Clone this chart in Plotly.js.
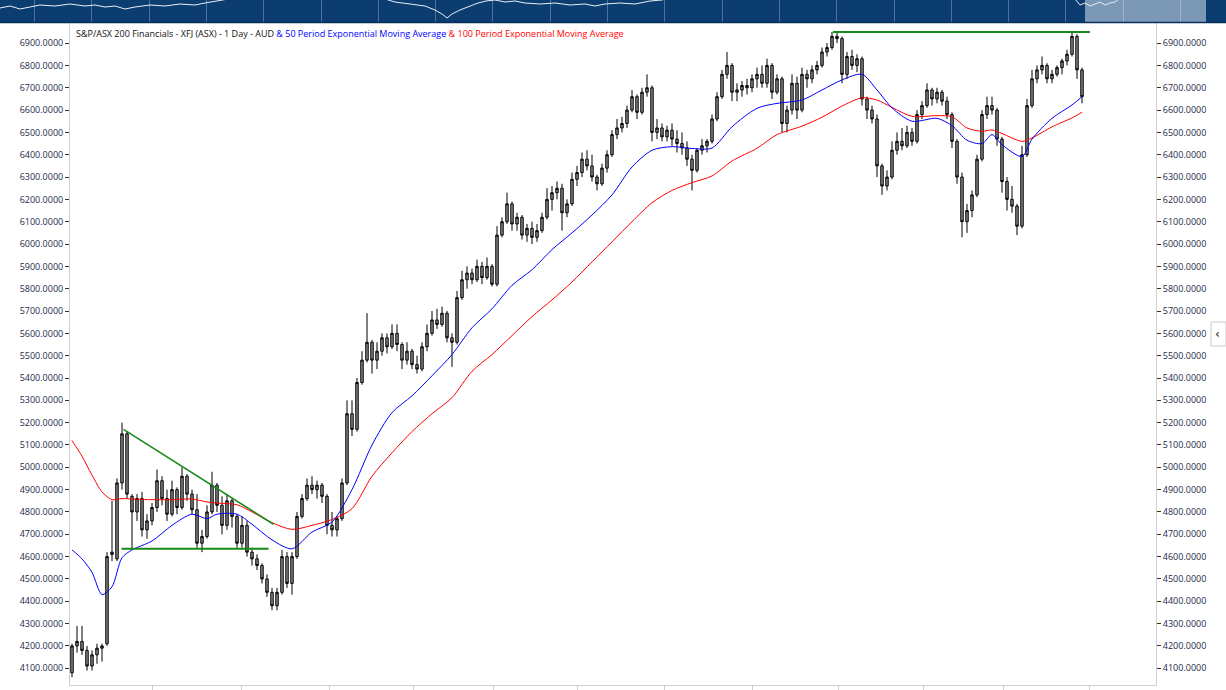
<!DOCTYPE html>
<html>
<head>
<meta charset="utf-8">
<script src="https://cdn.plot.ly/plotly-3.0.1.min.js"></script>
<style>html,body{margin:0;padding:0;background:#fff;}#chart{width:1226px;height:690px;}</style>
</head>
<body>
<div id="chart"></div>
<script>
const opens = [
4080,4200,4220,4180,4110,4160,4190,4210,4610,4590,
4930,5150,4870,4800,4860,4720,4760,4820,4940,4860,
4790,4900,4820,4960,4880,4810,4660,4690,4800,4920,
4830,4740,4850,4780,4660,4740,4620,4590,4560,4500,
4440,4380,4440,4600,4480,4600,4780,4860,4920,4900,
4920,4870,4740,4720,4770,4930,5240,5170,5380,5480,
5560,5480,5520,5580,5540,5600,5550,5480,5520,5460,
5440,5540,5600,5660,5640,5690,5580,5560,5760,5840,
5870,5840,5900,5850,5900,5820,6040,6100,6180,6090,
6120,6040,6070,6030,6060,6120,6200,6230,6250,6140,
6180,6290,6320,6380,6350,6300,6270,6340,6400,6490,
6520,6540,6600,6660,6590,6680,6700,6500,6520,6480,
6510,6470,6450,6430,6380,6330,6420,6440,6460,6560,
6660,6760,6800,6680,6690,6710,6700,6740,6760,6720,
6800,6680,6740,6540,6600,6720,6600,6760,6740,6780,
6800,6860,6880,6930,6920,6760,6840,6800,6830,6650,
6600,6560,6350,6260,6300,6420,6460,6440,6500,6460,
6580,6620,6690,6650,6680,6640,6580,6460,6300,6100,
6150,6220,6380,6580,6620,6600,6470,6280,6200,6170,
6080,6400,6620,6740,6780,6800,6740,6760,6790,6820,
6850,6930,6780];
const highs = [
4210,4290,4290,4200,4180,4210,4210,4620,4850,4950,
5200,5160,4880,4880,4890,4790,4840,4990,4960,4900,
4940,4910,5000,4970,4900,4880,4720,4830,4980,4930,
4870,4880,4860,4790,4780,4760,4640,4610,4570,4520,
4460,4460,4630,4620,4620,4800,4880,4950,4960,4940,
4930,4880,4800,4780,4950,5300,5300,5400,5520,5690,
5570,5560,5600,5600,5640,5640,5560,5560,5530,5500,
5560,5640,5700,5710,5720,5700,5600,5790,5880,5900,
5890,5930,5920,5940,5910,6080,6120,6230,6190,6140,
6130,6090,6100,6090,6140,6250,6260,6280,6270,6200,
6320,6350,6410,6420,6400,6310,6360,6420,6510,6560,
6570,6620,6690,6670,6700,6760,6710,6560,6540,6530,
6540,6510,6500,6460,6400,6430,6470,6470,6580,6680,
6780,6860,6810,6720,6730,6740,6760,6790,6800,6830,
6810,6760,6750,6620,6760,6750,6790,6780,6800,6820,
6880,6900,6950,6950,6930,6860,6870,6850,6840,6660,
6620,6580,6360,6330,6460,6500,6520,6530,6520,6600,
6640,6720,6700,6700,6690,6660,6590,6470,6320,6180,
6240,6400,6600,6660,6660,6610,6480,6300,6260,6180,
6440,6650,6780,6800,6840,6810,6780,6800,6830,6870,
6950,6940,6790];
const lows = [
4060,4170,4160,4090,4090,4120,4130,4200,4580,4580,
4900,4860,4630,4760,4690,4680,4740,4800,4830,4760,
4780,4790,4810,4850,4790,4640,4620,4680,4790,4800,
4700,4720,4730,4640,4640,4600,4560,4540,4480,4420,
4360,4360,4430,4460,4430,4590,4770,4850,4880,4860,
4840,4700,4690,4690,4760,4920,5140,5160,5370,5470,
5420,5440,5500,5510,5530,5520,5440,5460,5440,5420,
5430,5520,5590,5620,5630,5560,5450,5550,5750,5800,
5820,5830,5820,5840,5810,5810,6030,6090,6060,6060,
6020,6010,6000,6010,6050,6110,6150,6200,6060,6120,
6170,6260,6300,6330,6280,6240,6260,6320,6390,6470,
6500,6520,6590,6560,6580,6660,6460,6470,6460,6460,
6440,6410,6400,6350,6240,6320,6400,6410,6450,6550,
6650,6740,6640,6640,6660,6670,6680,6700,6700,6700,
6650,6670,6500,6500,6580,6560,6590,6700,6720,6760,
6790,6840,6870,6900,6720,6740,6780,6770,6620,6560,
6540,6300,6220,6240,6290,6400,6420,6430,6440,6450,
6560,6610,6620,6630,6620,6560,6430,6270,6030,6050,
6120,6210,6370,6560,6580,6440,6230,6150,6140,6040,
6070,6390,6610,6720,6760,6720,6720,6750,6760,6800,
6840,6740,6630];
const closes = [
4200,4220,4180,4110,4160,4190,4200,4600,4620,4930,
5150,4880,4800,4860,4720,4760,4820,4940,4860,4790,
4900,4820,4960,4880,4810,4660,4690,4800,4920,4830,
4740,4850,4780,4660,4740,4620,4590,4560,4500,4440,
4380,4440,4600,4480,4600,4780,4860,4920,4900,4920,
4870,4740,4720,4770,4930,5240,5170,5380,5480,5560,
5480,5520,5580,5540,5600,5550,5480,5520,5460,5440,
5540,5600,5660,5640,5690,5580,5560,5760,5840,5870,
5840,5900,5850,5900,5820,6040,6100,6180,6090,6120,
6040,6070,6030,6060,6120,6200,6230,6250,6140,6180,
6290,6320,6380,6350,6300,6270,6340,6400,6490,6520,
6540,6600,6660,6590,6680,6700,6500,6520,6480,6510,
6470,6450,6430,6380,6330,6420,6440,6460,6560,6660,
6760,6800,6680,6690,6710,6700,6740,6760,6720,6800,
6680,6740,6540,6600,6720,6600,6760,6740,6780,6800,
6860,6880,6930,6920,6760,6840,6800,6830,6650,6600,
6560,6350,6260,6300,6420,6460,6440,6500,6460,6580,
6620,6690,6650,6680,6640,6580,6460,6300,6100,6150,
6220,6380,6580,6620,6600,6470,6280,6200,6170,6080,
6400,6620,6740,6780,6800,6740,6760,6790,6820,6850,
6930,6780,6660];

const emaDays = [0,2,4,6,8,10,12,16,20,24,27,29,33,36,40,44,48,52,56,60,64,68,72,76,80,84,88,92,96,100,104,108,112,116,120,124,128,132,137,141,146,150,154,158,161,164,168,173,176,179,182,184,186,190,192,196,200,202];
const ema50 = [4630,4590,4530,4430,4465,4595,4630,4670,4740,4790,4770,4790,4790,4745,4675,4635,4710,4755,4900,5100,5245,5320,5410,5505,5625,5710,5815,5885,5975,6050,6130,6220,6345,6420,6436,6428,6430,6525,6608,6630,6645,6690,6735,6760,6690,6610,6550,6563,6530,6465,6450,6490,6445,6392,6470,6563,6623,6660];
const ema100 = [5120,5050,4965,4890,4855,4860,4858,4855,4855,4858,4845,4840,4832,4800,4752,4722,4740,4766,4815,4960,5065,5160,5240,5312,5430,5505,5590,5675,5750,5830,5920,6010,6100,6185,6240,6275,6305,6372,6429,6490,6528,6568,6618,6655,6645,6612,6572,6575,6570,6520,6505,6511,6495,6460,6475,6525,6565,6590];

// ---- Hand-drawn trend lines (day, price) ----
const resistDays = [10.3, 40.3];   const resistVals = [5170, 4745];
const supportDays = [9.9, 39.3];   const supportVals = [4635, 4635];
const topDays = [152.2, 203.6];    const topVals = [6950, 6950];

// ---- Month boundary ticks (day index) ----
const monthStarts = [16, 33.8, 51.4, 68.2, 84.2, 101, 118.4, 136, 153.2, 170.2, 186.2, 203.4];

// ---- Navigator overview line (position, relative level) ----
const navPos = [0,10,20,30,40,55,70,85,95,105,115,125,135,150,165,180,195,205,215,225,240,300,360,385,395,410,425,435,442,447,452,460,470,478,486,495,505,515,525,540,555,570,585,595,605,620,635,650,662,675,800,1000,1075,1080,1085,1090,1095,1100,1105,1110,1115,1120];
const navLvl = [15,17,14,16,18,17,19,17,18,16,17,14,16,18,17,19,18,20,22,24,26,30,30,24,21,19,17,13,9,5,9,13,17,20,22,23,21,22,20,19,20,18,19,17,19,20,19,22,23,27,35,35,24,18,20,17,19,21,18,20,21,25];

const days = opens.map((_, i) => i);
const yRange = [4025, 6990];
const tickFont = {family: 'Open Sans, Noto Sans, sans-serif', size: 9, color: '#1b2a49'};

const P = (px) => px / 1226;           // paper x from pixel
const Q = (py) => 1 - py / 690;        // paper y from pixel

const traces = [
  {
    type: 'candlestick', x: days, open: opens, high: highs, low: lows, close: closes,
    increasing: {line: {color: '#000', width: 1}, fillcolor: '#8a8a8a'},
    decreasing: {line: {color: '#000', width: 1}, fillcolor: '#8a8a8a'},
    whiskerwidth: 0, showlegend: false, hoverinfo: 'skip', xaxis: 'x', yaxis: 'y'
  },
  {type: 'scatter', mode: 'lines', x: emaDays, y: ema100, line: {color: '#ff0000', width: 1, shape: 'spline', smoothing: 0.8}, showlegend: false, hoverinfo: 'skip'},
  {type: 'scatter', mode: 'lines', x: emaDays, y: ema50, line: {color: '#0000ff', width: 1, shape: 'spline', smoothing: 0.8}, showlegend: false, hoverinfo: 'skip'},
  {type: 'scatter', mode: 'lines', x: resistDays, y: resistVals, line: {color: '#178a17', width: 1.6}, showlegend: false, hoverinfo: 'skip'},
  {type: 'scatter', mode: 'lines', x: supportDays, y: supportVals, line: {color: '#178a17', width: 2}, showlegend: false, hoverinfo: 'skip'},
  {type: 'scatter', mode: 'lines', x: topDays, y: topVals, line: {color: '#178a17', width: 2}, showlegend: false, hoverinfo: 'skip'},
  {type: 'scatter', mode: 'markers', x: [days[0]], y: [closes[0]], marker: {opacity: 0}, xaxis: 'x', yaxis: 'y3', showlegend: false, hoverinfo: 'skip'},
  {type: 'scatter', mode: 'lines', x: navPos, y: navLvl, line: {color: '#e8eef5', width: 1}, xaxis: 'x2', yaxis: 'y2', showlegend: false, hoverinfo: 'skip'}
];

const xDom = [P(70), P(1156)];
const yDom = [Q(685), Q(23)];

const layout = {
  width: 1226, height: 690,
  margin: {l: 0, r: 0, t: 0, b: 0, pad: 0},
  paper_bgcolor: '#ffffff', plot_bgcolor: 'rgba(0,0,0,0)',
  showlegend: false,
  xaxis: {
    domain: xDom, range: [-0.4, 216.8], type: 'linear', anchor: 'y',
    showgrid: false, zeroline: false, showline: true, linecolor: '#cfcfcf', linewidth: 1,
    tickmode: 'array', tickvals: monthStarts, ticktext: monthStarts.map(() => ''),
    ticks: 'outside', ticklen: 5, tickcolor: '#cfcfcf', tickwidth: 1,
    rangeslider: {visible: false}, fixedrange: true
  },
  yaxis: {
    domain: yDom, range: yRange, anchor: 'x', side: 'left',
    showgrid: false, zeroline: false, showline: true, linecolor: '#cfcfcf', linewidth: 1,
    dtick: 100, tick0: 0, tickformat: '.4f', ticks: 'outside', ticklen: 4, tickcolor: '#333', tickwidth: 1,
    tickfont: tickFont, fixedrange: true
  },
  yaxis3: {
    overlaying: 'y', side: 'right', anchor: 'x', range: yRange,
    showgrid: false, zeroline: false, showline: true, linecolor: '#cfcfcf', linewidth: 1,
    dtick: 100, tick0: 0, tickformat: '.4f', ticks: 'outside', ticklen: 4, tickcolor: '#333', tickwidth: 1,
    tickfont: tickFont, fixedrange: true
  },
  xaxis2: {
    domain: [0, 1], range: [0, 1226], anchor: 'y2',
    showgrid: true, gridcolor: 'rgba(255,255,255,0.28)', gridwidth: 1, tick0: 34.5, dtick: 57.3,
    showticklabels: false, ticks: '', zeroline: false, showline: false, fixedrange: true
  },
  yaxis2: {
    domain: [Q(23), 1], range: [0, 23], anchor: 'x2',
    showgrid: false, showticklabels: false, ticks: '', zeroline: false, showline: false, fixedrange: true
  },
  shapes: [
    {type: 'rect', xref: 'paper', yref: 'paper', x0: 0, x1: 1, y0: Q(23), y1: 1, fillcolor: '#0c3d70', line: {width: 0}, layer: 'below'},
    {type: 'rect', xref: 'paper', yref: 'paper', x0: P(1085), x1: P(1206), y0: Q(23), y1: 1, fillcolor: '#7b98b6', line: {width: 0}, layer: 'below'},
    {type: 'line', xref: 'paper', yref: 'paper', x0: 0, x1: 1, y0: Q(22.5), y1: Q(22.5), line: {color: '#08305a', width: 1.5}},
    {type: 'rect', xref: 'paper', yref: 'paper', x0: P(1211), x1: P(1226), y0: Q(346), y1: Q(322), fillcolor: '#ffffff', line: {color: '#cccccc', width: 1}}
  ],
  annotations: [
    {
      xref: 'paper', yref: 'paper', x: P(74), y: Q(34), xanchor: 'left', yanchor: 'middle', showarrow: false,
      font: {family: 'Open Sans, Noto Sans, sans-serif', size: 9, color: '#111111'},
      text: 'S&amp;P/ASX 200 Financials - XFJ (ASX) - 1 Day - AUD <span style="color:#0000ff">&amp; 50 Period Exponential Moving Average</span> <span style="color:#ff0000">&amp; 100 Period Exponential Moving Average</span>'
    },
    {
      xref: 'paper', yref: 'paper', x: P(1217), y: Q(334), xanchor: 'center', yanchor: 'middle', showarrow: false,
      font: {family: 'DejaVu Sans, sans-serif', size: 12, color: '#555555'}, text: '<b>‹</b>'
    }
  ]
};

Plotly.newPlot('chart', traces, layout, {displayModeBar: false, staticPlot: true});
</script>
</body>
</html>
